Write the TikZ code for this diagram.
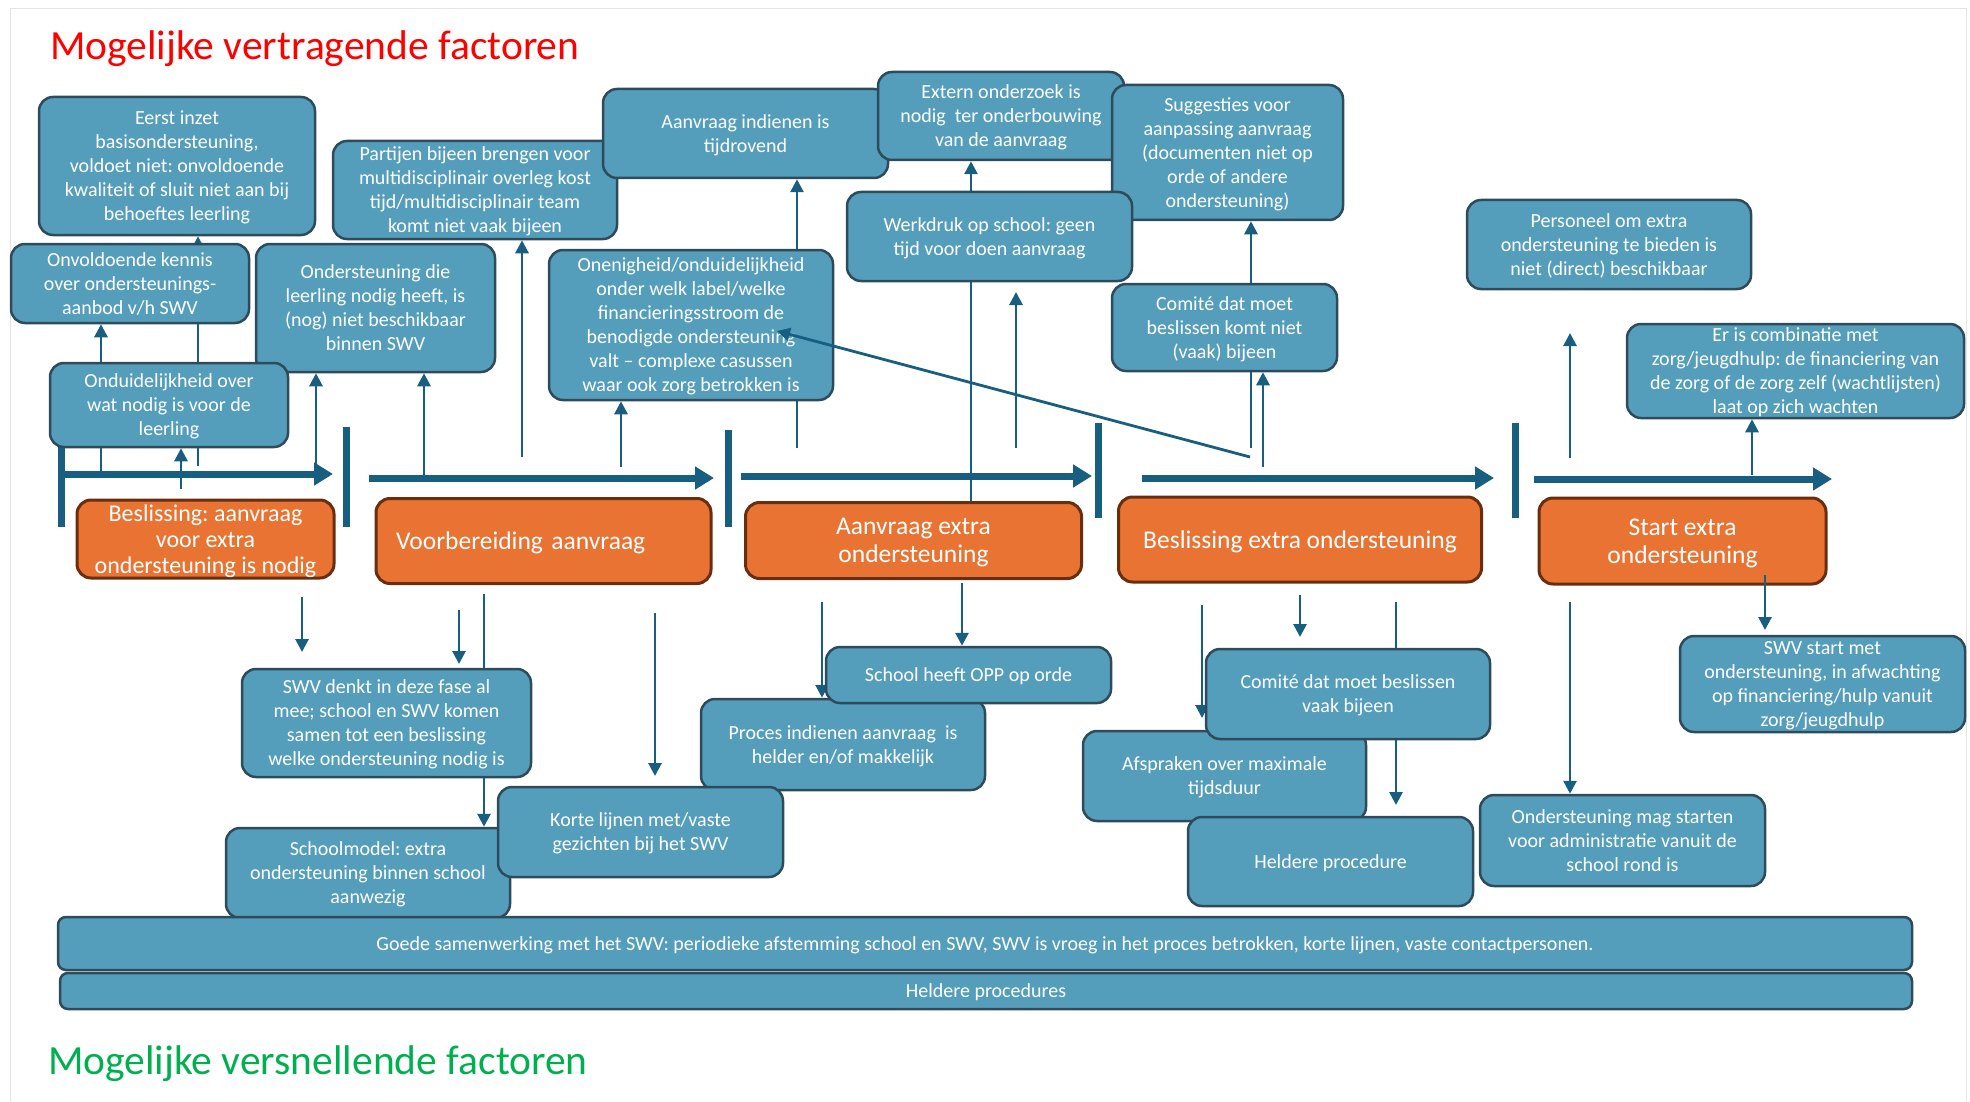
\documentclass[tikz,border=0pt]{standalone}
\usepackage{fontspec}
\setmainfont{Carlito}
\frenchspacing
\usetikzlibrary{arrows.meta}

\definecolor{blokblauw}{RGB}{84,158,187}
\definecolor{blokrand}{RGB}{45,75,90}
\definecolor{pijlblauw}{RGB}{24,94,128}
\definecolor{faseoranje}{RGB}{232,115,50}
\definecolor{faserand}{RGB}{105,45,15}
\definecolor{koprood}{RGB}{255,0,0}
\definecolor{kopgroen}{RGB}{0,176,80}

\pgfdeclarelayer{achter}
\pgfsetlayers{achter,main}

\tikzset{
  blok/.style={draw=blokrand, fill=blokblauw, line width=2.5pt, rounded corners=14pt,
    text=white, align=center, inner sep=2pt, text depth=0pt, font=\fontsize{20}{24}\selectfont},
  fase/.style={draw=faserand, fill=faseoranje, line width=3pt, rounded corners=14pt,
    text=white, align=center, inner sep=2pt, text depth=0pt, font=\fontsize{25.5}{28}\selectfont},
  balk/.style={blok, rounded corners=8pt},
  pijl/.style={draw=pijlblauw, line width=2.8pt, -{Triangle[length=13pt,width=13pt]}},
  fasepijl/.style={draw=pijlblauw, line width=7pt, -{Triangle[length=19pt,width=22pt]}},
  scheiding/.style={draw=pijlblauw, line width=7pt},
  kop/.style={inner sep=0pt, anchor=base west, font=\fontsize{41.5}{48}\selectfont},
}

\begin{document}
\begin{tikzpicture}[x=1pt,y=-1pt]
			%%%%% START %%%%%
			\useasboundingbox (0,0) rectangle (1970,1102);
			\draw[black!10] (10,1102) -- (10,8) -- (1966,8) -- (1966,1102);
			
			\node[kop, text=koprood] (vertragend) at (50,59.5) {Mogelijke vertragende factoren};
			\node[kop, text=kopgroen] (versnellend) at (48,1074) {Mogelijke versnellende factoren};
			
			% fasen
			\node[fase, minimum width=257pt, minimum height=78pt, font=\fontsize{24}{26}\selectfont] (besluit) at (205.5,539) {Beslissing: aanvraag\\voor extra\\ondersteuning is nodig};
			\node[fase, minimum width=335pt, minimum height=85pt, align=left, text width=295pt] (voorbereiding) at (543.5,541) {Voorbereiding aanvraag};
			\node[fase, minimum width=336pt, minimum height=76pt] (aanvraag) at (913.5,540.5) {Aanvraag extra\\ondersteuning};
			\node[fase, minimum width=363pt, minimum height=85pt] (beslissing) at (1300,539.5) {Beslissing extra ondersteuning};
			\node[fase, minimum width=287pt, minimum height=86pt] (start) at (1682.5,541) {Start extra\\ondersteuning};
			
			% vertragende factoren
			\node[blok, minimum width=276pt, minimum height=138pt] (eerst) at (177,166) {Eerst inzet\\basisondersteuning,\\voldoet niet: onvoldoende\\kwaliteit of sluit niet aan bij\\behoeftes leerling};
			\node[blok, minimum width=238pt, minimum height=79pt] (kennis) at (130,283.5) {Onvoldoende kennis\\over ondersteunings-\\aanbod v/h SWV};
			\node[blok, minimum width=239pt, minimum height=128pt] (nogniet) at (375.5,308) {Ondersteuning die\\leerling nodig heeft, is\\(nog) niet beschikbaar\\binnen SWV};
			\node[blok, minimum width=238pt, minimum height=84pt] (onduidelijk) at (169,405) {Onduidelijkheid over\\wat nodig is voor de\\leerling};
			\node[blok, minimum width=284pt, minimum height=98pt] (partijen) at (475,190) {Partijen bijeen brengen voor\\multidisciplinair overleg kost\\tijd/multidisciplinair team\\komt niet vaak bijeen};
			\node[blok, minimum width=285pt, minimum height=89pt] (tijdrovend) at (745.5,133.5) {Aanvraag indienen is\\tijdrovend};
			\node[blok, minimum width=284pt, minimum height=150pt] (onenigheid) at (691,325) {Onenigheid/onduidelijkheid\\onder welk label/welke\\financieringsstroom de\\benodigde ondersteuning\\valt – complexe casussen\\waar ook zorg betrokken is};
			\node[blok, minimum width=246pt, minimum height=88pt] (extern) at (1001,116) {Extern onderzoek is\\nodig\ \ ter onderbouwing\\van de aanvraag};
			\node[blok, minimum width=231pt, minimum height=135pt] (suggesties) at (1227.5,152.5) {Suggesties voor\\aanpassing aanvraag\\(documenten niet op\\orde of andere\\ondersteuning)};
			\node[blok, minimum width=285pt, minimum height=89pt] (werkdruk) at (989.5,236.5) {Werkdruk op school: geen\\tijd voor doen aanvraag};
			\node[blok, minimum width=225pt, minimum height=87pt] (comite) at (1224.5,327.5) {Comité dat moet\\beslissen komt niet\\(vaak) bijeen};
			\node[blok, minimum width=284pt, minimum height=89pt] (personeel) at (1609,244.5) {Personeel om extra\\ondersteuning te bieden is\\niet (direct) beschikbaar};
			\node[blok, minimum width=337pt, minimum height=94pt] (combinatie) at (1795.5,371) {Er is combinatie met\\zorg/jeugdhulp: de financiering van\\de zorg of de zorg zelf (wachtlijsten)\\laat op zich wachten};
			
			% versnellende factoren
			\node[blok, minimum width=289pt, minimum height=108pt] (meedenken) at (386.5,723) {SWV denkt in deze fase al\\mee; school en SWV komen\\samen tot een beslissing\\welke ondersteuning nodig is};
			\node[blok, minimum width=284pt, minimum height=90pt] (schoolmodel) at (368,873) {Schoolmodel: extra\\ondersteuning binnen school\\aanwezig};
			\node[blok, minimum width=284pt, minimum height=91pt] (proces) at (843,744.5) {Proces indienen aanvraag\ \ is\\helder en/of makkelijk};
			\node[blok, minimum width=285pt, minimum height=90pt] (korte) at (640.5,832) {Korte lijnen met/vaste\\gezichten bij het SWV};
			\node[blok, minimum width=285pt, minimum height=56pt] (opp) at (968.5,675) {School heeft OPP op orde};
			\node[blok, minimum width=283pt, minimum height=90pt] (afspraken) at (1224.5,776) {Afspraken over maximale\\tijdsduur};
			\node[blok, minimum width=284pt, minimum height=90pt] (comitevaak) at (1348,694) {Comité dat moet beslissen\\vaak bijeen};
			\node[blok, minimum width=285pt, minimum height=89pt] (heldere) at (1330.5,861.5) {Heldere procedure};
			\node[blok, minimum width=285pt, minimum height=91pt] (magstarten) at (1622.5,840.5) {Ondersteuning mag starten\\voor administratie vanuit de\\school rond is};
			\node[blok, minimum width=285pt, minimum height=96pt] (swvstart) at (1822.5,684) {SWV start met\\ondersteuning, in afwachting\\op financiering/hulp vanuit\\zorg/jeugdhulp};
			
			\node[balk, minimum width=1854pt, minimum height=53pt] (samenwerking) at (985,943.5) {Goede samenwerking met het SWV: periodieke afstemming school en SWV, SWV is vroeg in het proces betrokken, korte lijnen, vaste contactpersonen.};
			\node[balk, minimum width=1852pt, minimum height=36pt] (procedures) at (986,991) {Heldere procedures};
			
			\begin{pgfonlayer}{achter}
			% tijdlijn
			\draw[scheiding] (61,440) -- (61,527);
			\draw[fasepijl] (61,474) -- (333,474);
			\draw[scheiding] (346,427) -- (346,527);
			\draw[fasepijl] (369,478) -- (714,478);
			\draw[scheiding] (728,430) -- (728,527);
			\draw[fasepijl] (741,476) -- (1092,476);
			\draw[scheiding] (1098,423) -- (1098,518);
			\draw[fasepijl] (1142,478) -- (1494,478);
			\draw[scheiding] (1515,423) -- (1515,518);
			\draw[fasepijl] (1534,479) -- (1832,479);
			
			% omhoog
			\draw[pijl] (101,474) -- (101,0 |- kennis.south);
			\draw[pijl] (181,489) -- (181,0 |- onduidelijk.south);
			\draw[pijl] (198,466) -- (198,0 |- eerst.south);
			\draw[pijl] (316,470) -- (316,0 |- nogniet.south);
			\draw[pijl] (424,476) -- (424,0 |- nogniet.south);
			\draw[pijl] (522,457) -- (522,0 |- partijen.south);
			\draw[pijl] (621,467) -- (621,0 |- onenigheid.south);
			\draw[pijl] (797,448) -- (797,0 |- tijdrovend.south);
			\draw[pijl] (971,0 |- aanvraag.north) -- (971,0 |- extern.south);
			\draw[pijl] (1016,448) -- (1016,292);
			\draw[pijl] (1251,448) -- (1251,0 |- suggesties.south);
			\draw[pijl] (1263,467) -- (1263,0 |- comite.south);
			\draw[pijl] (1570,458) -- (1570,333);
			\draw[pijl] (1752,475) -- (1752,0 |- combinatie.south);
			
			% omlaag
			\draw[pijl] (302,597) -- (302,652);
			\draw[pijl] (459,610) -- (459,664);
			\draw[pijl] (484,594) -- (484,0 |- schoolmodel.north);
			\draw[pijl] (655,613) -- (655,776);
			\draw[pijl] (822,602) -- (822,0 |- proces.north);
			\draw[pijl] (962,583) -- (962,0 |- opp.north);
			\draw[pijl] (1202,605) -- (1202,718);
			\draw[pijl] (1300,595) -- (1300,637);
			\draw[pijl] (1396,602) -- (1396,805);
			\draw[pijl] (1570,602) -- (1570,0 |- magstarten.north);
			\end{pgfonlayer}
			
			\draw[pijl] (1250,457) -- (777,331);
			\draw[pijl] (1765,575) -- (1765,630);
			
			%%%%% END %%%%%
\end{tikzpicture}
\end{document}
